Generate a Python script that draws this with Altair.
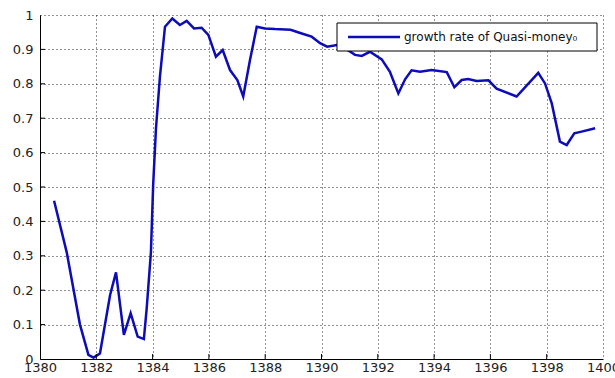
import altair as alt
import pandas as pd

# Quarterly observations (Iranian calendar years)
years = [
    1380.50, 1380.95, 1381.42, 1381.72, 1381.90, 1382.13, 1382.49, 1382.70,
    1382.98, 1383.22, 1383.47, 1383.69, 1383.79, 1383.94, 1384.02, 1384.12,
    1384.26, 1384.44, 1384.70, 1384.97, 1385.21, 1385.47, 1385.74, 1385.98,
    1386.25, 1386.49, 1386.75, 1387.01, 1387.22, 1387.46, 1387.70, 1387.99,
    1388.35, 1388.90, 1389.27, 1389.65, 1389.95, 1390.20, 1390.55, 1390.90,
    1391.19, 1391.43, 1391.72, 1392.14, 1392.43, 1392.73, 1392.97, 1393.20,
    1393.50, 1393.91, 1394.45, 1394.72, 1394.98, 1395.21, 1395.51, 1395.93,
    1396.22, 1396.93, 1397.70, 1397.94, 1398.18, 1398.47, 1398.71, 1398.98,
    1399.24, 1399.72,
]
growth = [
    0.460, 0.310, 0.100, 0.012, 0.004, 0.016, 0.186, 0.252,
    0.070, 0.133, 0.065, 0.058, 0.147, 0.310, 0.506, 0.670,
    0.820, 0.966, 0.990, 0.971, 0.983, 0.961, 0.963, 0.942,
    0.879, 0.898, 0.840, 0.811, 0.763, 0.869, 0.966, 0.961,
    0.959, 0.957, 0.947, 0.937, 0.918, 0.908, 0.913, 0.900,
    0.884, 0.881, 0.893, 0.871, 0.835, 0.772, 0.813, 0.839,
    0.835, 0.840, 0.834, 0.790, 0.811, 0.814, 0.808, 0.810,
    0.786, 0.763, 0.832, 0.801, 0.743, 0.632, 0.622, 0.656,
    0.661, 0.671,
]
x_ticks = [1380, 1382, 1384, 1386, 1388, 1390, 1392, 1394, 1396, 1398, 1400]
y_ticks = [0, 0.1, 0.2, 0.3, 0.4, 0.5, 0.6, 0.7, 0.8, 0.9, 1]
series_label = "growth rate of Quasi-money\u2080"

W, H = 563, 344
FONT = "DejaVu Sans"
BLUE = "#0c0cb8"

df = pd.DataFrame({"year": years, "growth": growth})
xs = alt.Scale(domain=[1380, 1400], nice=False, zero=False)
ys = alt.Scale(domain=[0, 1], nice=False)

common_axis = dict(grid=True, ticks=False, labelFontSize=13, labelFont=FONT,
                   labelColor="#222", domainColor="black", gridColor="black",
                   gridDash=[1, 3], gridOpacity=0.85, labelOverlap=False,
                   labelBound=False, labelFlush=False)
x_axis = alt.Axis(values=x_ticks, format="d", labelPadding=2, **common_axis)
y_axis = alt.Axis(values=y_ticks, labelPadding=7,
                  labelExpr="datum.value == 0 || datum.value == 1 ? format(datum.value, 'd') : format(datum.value, '.1f')",
                  **common_axis)

line = alt.Chart(df).mark_line(color=BLUE, strokeWidth=2.5, clip=True).encode(
    x=alt.X("year:Q", scale=xs, title=None, axis=x_axis),
    y=alt.Y("growth:Q", scale=ys, title=None, axis=y_axis),
)

# short inward tick marks on both axes
xt = alt.Chart(pd.DataFrame({"year": x_ticks[1:-1]})).mark_rule(color="black").encode(
    x=alt.X("year:Q", scale=xs, title=None, axis=x_axis),
    y=alt.value(H), y2=alt.value(H - 5))
yt = alt.Chart(pd.DataFrame({"growth": y_ticks[1:-1]})).mark_rule(color="black").encode(
    y=alt.Y("growth:Q", scale=ys, title=None, axis=y_axis),
    x=alt.value(0), x2=alt.value(5))

# legend box
one = pd.DataFrame({"label": [series_label]})
box = alt.Chart(one).mark_rect(fill="white", stroke="black", strokeWidth=1).encode(
    x=alt.value(297), x2=alt.value(557), y=alt.value(8), y2=alt.value(36))
sym = alt.Chart(one).mark_rule(color=BLUE, strokeWidth=2.5).encode(
    x=alt.value(308), x2=alt.value(360), y=alt.value(22))
txt = alt.Chart(one).mark_text(align="left", baseline="middle", font=FONT,
                               fontSize=12, color="#111").encode(
    x=alt.value(364), y=alt.value(22), text="label:N")

chart = alt.layer(line, xt, yt, box, sym, txt).properties(
    width=W, height=H,
    autosize=alt.AutoSizeParams(type="none"),
    padding={"left": 40, "top": 15, "right": 12, "bottom": 19},
    background="white",
).configure_view(stroke=None).configure_axis(labelOverlap=False)

chart.save("out.html", embed_options={"renderer": "svg", "actions": False})
